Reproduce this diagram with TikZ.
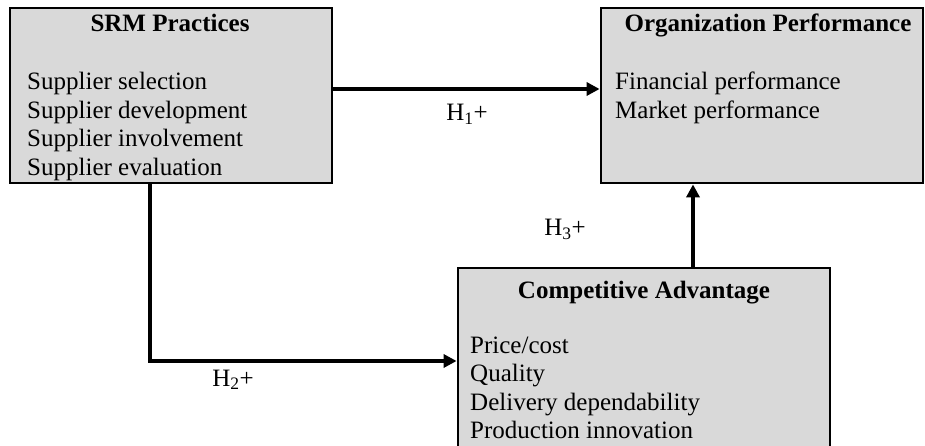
\documentclass[tikz,border=0pt]{standalone}
\usepackage{fontspec}
\setmainfont{Liberation Serif}
\usetikzlibrary{arrows.meta}
\definecolor{boxgray}{HTML}{D9D9D9}
\begin{document}
\begin{tikzpicture}[x=1pt,y=-1pt,
  box/.style={draw=black, line width=2.8pt, fill=boxgray, rectangle, inner sep=0pt},
  title/.style={font=\fontsize{25}{28.5}\selectfont\bfseries, anchor=base, inner sep=0pt},
  items/.style={font=\fontsize{25}{28.5}\selectfont, anchor=base west, inner sep=0pt, align=left},
  lbl/.style={font=\fontsize{25}{28.5}\selectfont, anchor=base, inner sep=0pt},
  conn/.style={line width=4pt, -{Triangle[length=13pt,width=13pt]}}]
\useasboundingbox (0,0) rectangle (925,446);
\clip (0,0) rectangle (925,446);
% boxes
\node[box, minimum width=322pt, minimum height=175pt] (srm) at (171,95.5) {};
\node[box, minimum width=322pt, minimum height=175pt] (org) at (762,95.5) {};
\node[box, minimum width=372pt, minimum height=190pt] (ca) at (644,363) {};
% texts
\node[title] (srmt) at (170,32) {SRM Practices};
\node[items] (srml1) at (27,90) {Supplier selection};
\node[items] (srml2) at (27,118.5) {Supplier development};
\node[items] (srml3) at (27,147) {Supplier involvement};
\node[items] (srml4) at (27,175.5) {Supplier evaluation};
\node[title] (orgt) at (768,32) {Organization Performance};
\node[items] (orgl1) at (615,90) {Financial performance};
\node[items] (orgl2) at (615,118.5) {Market performance};
\node[title] (cat) at (644,298) {Competitive Advantage};
\node[items] (cal1) at (470,353) {Price/cost};
\node[items] (cal2) at (470,381.5) {Quality};
\node[items] (cal3) at (470,410) {Delivery dependability};
\node[items] (cal4) at (470,438.5) {Production innovation};
% connectors
\coordinate (h1y) at (0,89);
\coordinate (bend) at (150,361);
\coordinate (h3x) at (693,0);
\draw[conn] (srm.east |- h1y) -- (org.west |- h1y);
\draw[conn] (srm.south -| bend) -- (bend) -- (ca.west |- bend);
\draw[conn] (ca.north -| h3x) -- (org.south -| h3x);
% labels
\node[lbl] (h1) at (467,121) {H\textsubscript{1}+};
\node[lbl] (h2) at (233,386) {H\textsubscript{2}+};
\node[lbl] (h3) at (565,236) {H\textsubscript{3}+};
\end{tikzpicture}
\end{document}
